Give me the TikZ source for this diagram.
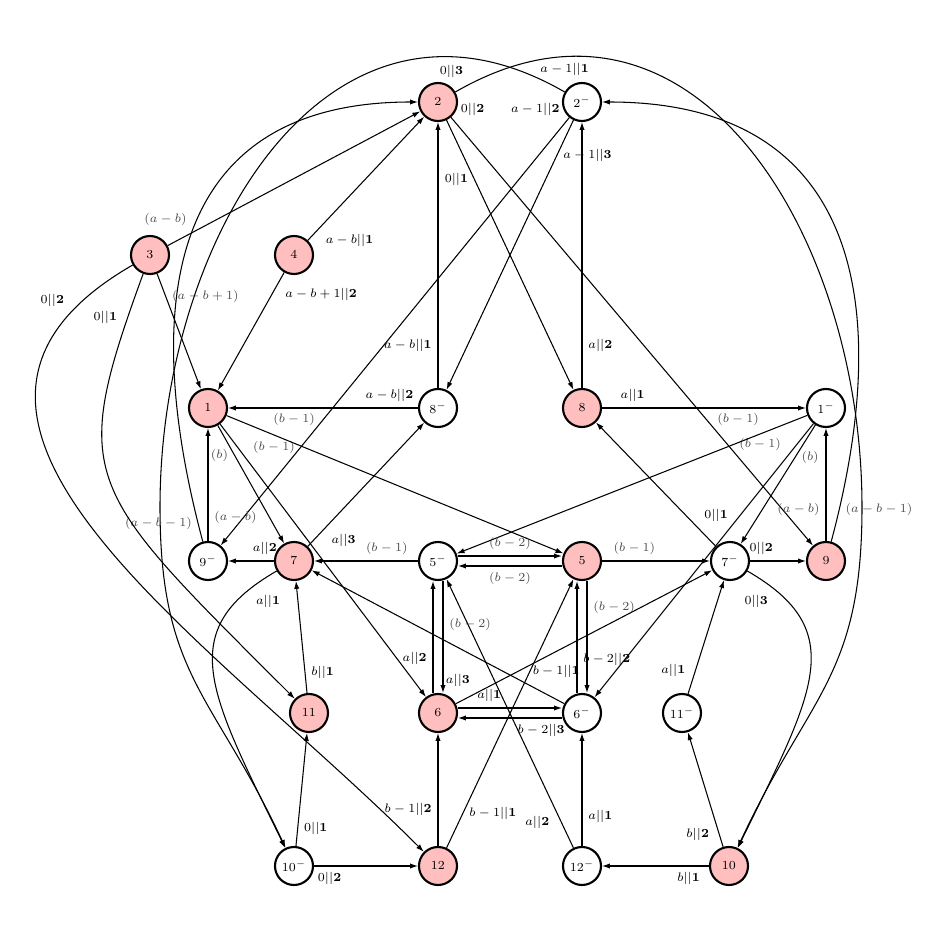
\documentclass[tikz,border=0pt]{standalone}
\usetikzlibrary{arrows.meta}

\tikzset{
    state/.style={circle, draw, very thick, minimum size=0.76cm, inner sep=0pt},
    hot/.style={state, fill=red!25},
    cold/.style={state, fill=white},
    glab/.style={text=black!70},
}

\begin{document}
\begin{tikzpicture}[semithick, >={Latex[length=4.5pt,width=3pt]}, every node/.style={font=\scriptsize}]
            \useasboundingbox (0,0) rectangle (18.52,18.52);

            % red states
            \foreach \n/\x/\y in {1/4.16/10.36, 2/8.76/16.48, 3/3.00/13.42, 4/5.88/13.42, 5/11.64/7.30, 6/8.76/4.26,
                    7/5.88/7.30, 8/11.64/10.36, 9/16.52/7.30, 10/14.58/1.20, 11/6.18/4.26, 12/8.76/1.20}
                \node[hot] (r\n) at (\x,\y) {$\n$};

            % minus states
            \foreach \n/\x/\y in {1/16.52/10.36, 2/11.64/16.48, 5/8.76/7.30, 6/11.64/4.26, 7/14.60/7.30,
                    8/8.76/10.36, 9/4.16/7.30, 10/5.88/1.20, 11/13.64/4.26, 12/11.64/1.20}
                \node[cold] (m\n) at (\x,\y) {$\n^-$};

            \coordinate (wA) at (17.24,8.38);
            \coordinate (wC) at (3.20,8.38);

            % top part
            \draw[->] (r3) -- node[glab, pos=0.1, above left] {$(a-b)$} (r2);
            \draw[->] (r4) -- node[pos=0.1, below right] {$a-b||\mathbf{1}$} (r2);
            \draw[->] (r3) -- node[glab, pos=0.2, right] {$(a-b+1)$} (r1);
            \draw[->] (r4) -- node[pos=0.08, below right] {$a-b+1||\mathbf{2}$} (r1);
            \draw[->] (m8) -- node[pos=0.16, left] {$a-b||\mathbf{1}$} (r2);
            \draw[->] (m8) -- node[pos=0.15, above] {$a-b||\mathbf{2}$} (r1);
            \draw[->] (r2) -- node[pos=0.22, left] {$0||\mathbf{1}$} (r8);
            \draw[->] (r2) -- node[pos=0.01, above right] {$0||\mathbf{2}$} (r9);
            \draw[->] (m2) -- node[pos=0.01, above left] {$a-1||\mathbf{2}$} (m9);
            \draw[->] (m2) -- node[pos=0.13, right] {$a-1||\mathbf{3}$} (m8);
            \draw[->] (r8) -- node[pos=0.16, right] {$a||\mathbf{2}$} (m2);
            \draw[->] (r8) -- node[pos=0.15, above] {$a||\mathbf{1}$} (m1);

            % long bends
            \draw[->] (r2) to[out=30, in=90, looseness=1.2] node[pos=0.02, above left] {$0||\mathbf{3}$} (wA)
                to[out=-90, in=65, looseness=1.2] (r10);
            \draw[->] (m2) to[out=150, in=90, looseness=1.2] node[pos=0, above=2mm] {$a-1||\mathbf{1}$} (wC)
                to[out=-90, in=115, looseness=1.2] (m10);
            \draw[->] (r9) to[out=75, in=0, looseness=1.3] node[glab, pos=0.045, right] {$(a-b-1)$} (m2);
            \draw[->] (m9) to[out=105, in=180, looseness=1.3] node[glab, pos=0.025, left] {$(a-b-1)$} (r2);
            \draw[->] (r3) to[out=210, in=135, looseness=1.2] node[pos=0.1, above left] {$0||\mathbf{2}$} (r12);
            \draw[->] (r3) to[out=250, in=135, out looseness=1.25, in looseness=1.7] node[pos=0.1, above left] {$0||\mathbf{1}$} (r11);

            \draw[->] (m9) -- node[glab, pos=0.21, right] {$(a-b)$} (r1);
            \draw[->] (r9) -- node[glab, pos=0.28, left] {$(a-b)$} (m1);
            \draw[->] (r1) -- node[glab, pos=0.25, left] {$(b)$} (r7);
            \draw[->] (r1) -- node[glab, pos=0.13, above right] {$(b-1)$} (r6);
            \draw[->] (r1) -- node[glab, pos=0.12, above right] {$(b-1)$} (r5);
            \draw[->] (m1) -- node[glab, pos=0.27, right] {$(b)$} (m7);
            \draw[->] (m1) -- node[glab, pos=0.12, above left] {$(b-1)$} (m6);
            \draw[->] (m1) -- node[glab, pos=0.12, above left] {$(b-1)$} (m5);

            % middle row
            \draw[->] (r7) -- node[pos=0.2, above] {$a||\mathbf{2}$} (m9);
            \draw[->] (r7) -- node[pos=0.15, below right] {$a||\mathbf{3}$} (m8);
            \draw[->] (m5) -- node[glab, pos=0.3, above] {$(b-1)$} (r7);
            \draw[->] (r7) to[out=210, in=116, out looseness=1.1, in looseness=1.6] node[pos=0.1, below right] {$a||\mathbf{1}$} (m10);
            \draw[->] (r11) -- node[pos=0.18, right] {$b||\mathbf{1}$} (r7);
            \draw[->] (m6) -- node[pos=0.15, above right] {$b-1||\mathbf{1}$} (r7);
            \draw[->] ([yshift=1mm]m5.east) -- node[glab, above] {$(b-2)$} ([yshift=1mm]r5.west);
            \draw[->] ([yshift=-1mm]r5.west) -- node[glab, below] {$(b-2)$} ([yshift=-1mm]m5.east);
            \draw[->] (r5) -- node[glab, pos=0.3, above] {$(b-1)$} (m7);
            \draw[->] (m7) -- node[pos=0.15, above right] {$0||\mathbf{1}$} (r8);
            \draw[->] (m7) -- node[pos=0.2, above] {$0||\mathbf{2}$} (r9);
            \draw[->] (m7) to[out=-30, in=64, out looseness=1.1, in looseness=1.6] node[pos=0.1, below left] {$0||\mathbf{3}$} (r10);

            % double links
            \draw[->] ([xshift=-1mm]r6.north) -- node[pos=0.31, left] {$a||\mathbf{2}$} ([xshift=-1mm]m5.south);
            \draw[->] ([xshift=1mm]m5.south) -- node[glab, pos=0.39, right] {$(b-2)$} ([xshift=1mm]r6.north);
            \draw[->] ([xshift=-1mm]m6.north) -- node[pos=0.3, right] {$b-2||\mathbf{2}$} ([xshift=-1mm]r5.south);
            \draw[->] ([xshift=1mm]r5.south) -- node[glab, pos=0.24, right] {$(b-2)$} ([xshift=1mm]m6.north);
            \draw[->] ([yshift=1mm]r6.east) -- node[pos=0.3, above] {$a||\mathbf{1}$} ([yshift=1mm]m6.west);
            \draw[->] ([yshift=-1mm]m6.west) -- node[pos=0.2, below] {$b-2||\mathbf{3}$} ([yshift=-1mm]r6.east);
            \draw[->] (r6) -- node[pos=0.08, above left] {$a||\mathbf{3}$} (m7);
            \draw[->] (m11) -- node[pos=0.1, above left] {$a||\mathbf{1}$} (m7);

            % bottom row
            \draw[->] (m10) -- node[pos=0.16, right] {$0||\mathbf{1}$} (r11);
            \draw[->] (m10) -- node[pos=0.15, below] {$0||\mathbf{2}$} (r12);
            \draw[->] (r12) -- node[pos=0.32, left] {$b-1||\mathbf{2}$} (r6);
            \draw[->] (r12) -- node[pos=0.13, right] {$b-1||\mathbf{1}$} (r5);
            \draw[->] (m12) -- node[pos=0.14, below left] {$a||\mathbf{2}$} (m5);
            \draw[->] (m12) -- node[pos=0.26, right] {$a||\mathbf{1}$} (m6);
            \draw[->] (r10) -- node[pos=0.19, below] {$b||\mathbf{1}$} (m12);
            \draw[->] (r10) -- node[pos=0.22, below left] {$b||\mathbf{2}$} (m11);
        \end{tikzpicture}
\end{document}
